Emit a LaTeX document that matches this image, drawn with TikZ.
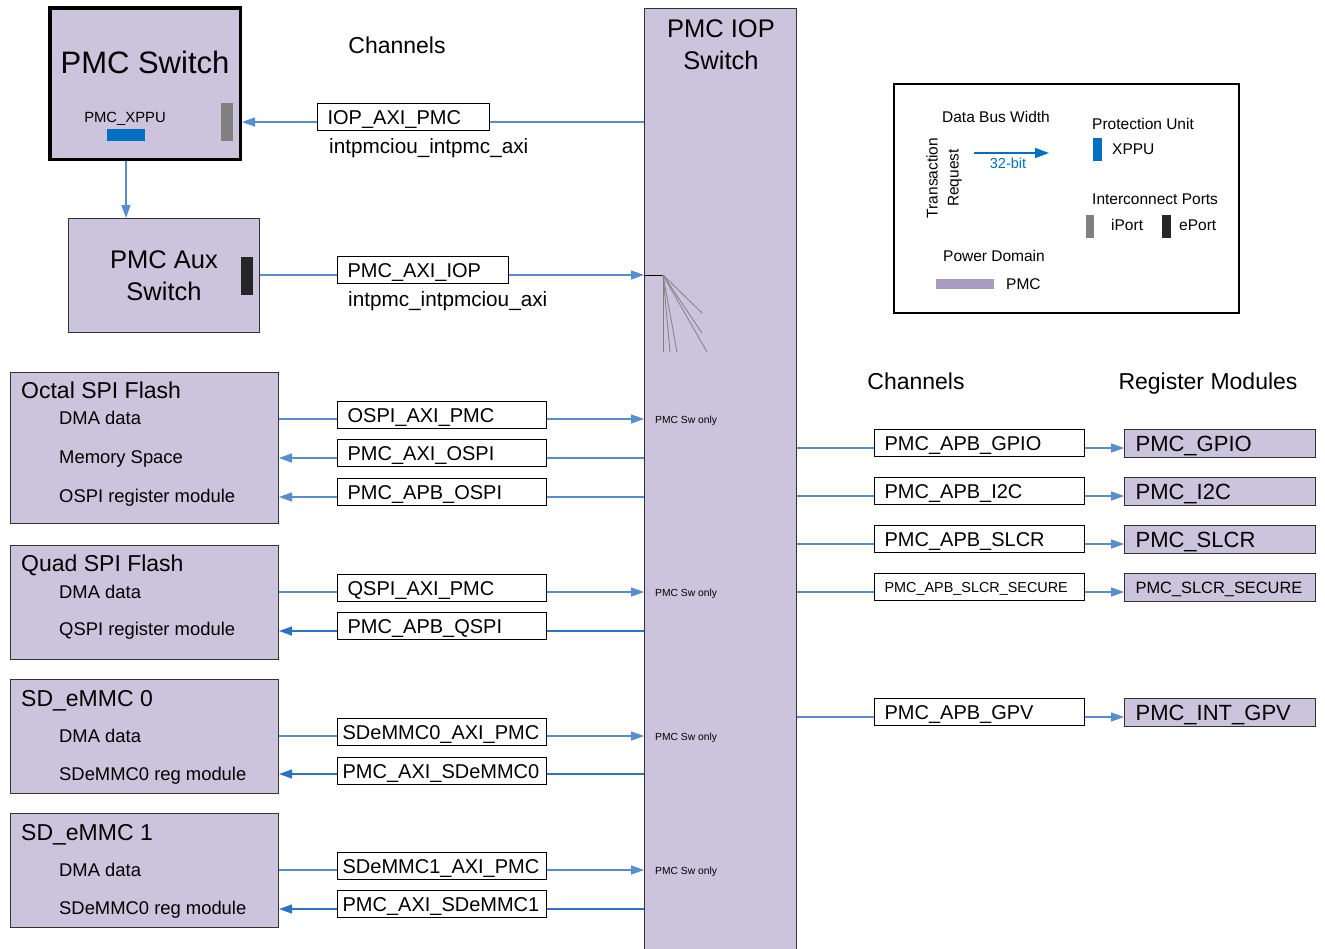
\documentclass[tikz,border=0pt]{standalone}
\usepackage{fontspec}
\setmainfont{Liberation Sans}
\usetikzlibrary{
  arrows.meta,
  positioning,
  calc
}
\definecolor{pmcFill}{HTML}{CCC4DC}
\definecolor{pmcBar}{HTML}{A99BC1}
\definecolor{busBlue}{HTML}{558ED5}
\definecolor{busDark}{HTML}{2A74C6}
\definecolor{xppuBlue}{HTML}{0070C0}
\definecolor{iportGray}{HTML}{808080}
\definecolor{eportBlack}{HTML}{262626}
\definecolor{edgeGray}{HTML}{333333}
\tikzset{
  ftitle/.style={font=\fontsize{31}{36}\selectfont, text height=22.3pt},
  fbig/.style={font=\fontsize{25.5}{32}\selectfont},
  fhead/.style={font=\fontsize{23}{28}\selectfont, text height=16.6pt},
  fchan/.style={font=\fontsize{20}{24}\selectfont, text height=14.4pt},
  fitem/.style={font=\fontsize{18.4}{22}\selectfont, text height=13.2pt},
  fmod/.style={font=\fontsize{22}{26}\selectfont, text height=15.8pt},
  flegend/.style={font=\fontsize{15.5}{21}\selectfont, text height=11.2pt},
  fsmall/.style={font=\fontsize{14.8}{17}\selectfont, text height=10.6pt},
  ftiny/.style={font=\fontsize{10.3}{12}\selectfont, text height=7.4pt},
  fport/.style={font=\fontsize{20.7}{24}\selectfont, text height=14.9pt},
  txt/.style={inner sep=0pt, text depth=0pt},
  ltxt/.style={txt, anchor=west},
  pmcbox/.style={
    draw=edgeGray, line width=1.4pt, fill=pmcFill, anchor=north west, inner sep=0pt
  },
  chan/.style={
    draw=black, line width=1.2pt, fill=white, anchor=north west, align=left,
    minimum height=26.5pt, inner xsep=10pt, inner ysep=0pt,
    text depth=0pt, fchan
  },
  regmod/.style={
    draw=edgeGray, line width=1.2pt, fill=pmcFill, anchor=north west, align=left,
    minimum height=28pt, inner xsep=11pt, inner ysep=0pt, text width=168.8pt,
    text depth=0pt, fmod
  },
  portbar/.style={inner sep=0pt, minimum width=12pt, minimum height=38pt},
  bus/.style={busBlue, line width=1.3pt},
  busarrow/.style={bus, -{Triangle[length=13pt,width=9pt]}},
  busback/.style={busDark, line width=1.3pt, -{Triangle[length=13pt,width=9pt]}},
  fanline/.style={iportGray, line width=0.8pt}
}
\begin{document}
\begin{tikzpicture}[x=1pt, y=-1pt]
  \useasboundingbox (0,0) rectangle (1325,948);

  % switches
  \node[pmcbox, draw=black, line width=3.5pt, minimum width=190.5pt, minimum height=151.5pt] (pmcsw) at (48,6) {};
  \node[ftitle, txt] (pmcswname) at (145,62) {PMC Switch};
  \node[fsmall, txt] (xppuname) at (125,117) {PMC\_XPPU};
  \node[fill=xppuBlue, inner sep=0pt, minimum width=38pt, minimum height=12pt] (xppu) at (126,134.5) {};
  \node[portbar, fill=iportGray] (iportsw) at (227,121.5) {};

  \node[pmcbox, minimum width=191pt, minimum height=113.6pt] (aux) at (68,218) {};
  \node[fbig, align=center] (auxname) at (164,276) {PMC Aux\\Switch};
  \node[portbar, fill=eportBlack] (eportaux) at (247,275.5) {};

  \node[pmcbox, minimum width=152pt, minimum height=950pt] (iop) at (644,8) {};
  \node[fbig, align=center] (iopname) at (721,45) {PMC IOP\\Switch};

  % flash and sd blocks
  \node[pmcbox, minimum width=267.6pt, minimum height=150.6pt] (ospi) at (10,372) {};
  \node[fhead, ltxt] (ospiname) at (21,390) {Octal SPI Flash};
  \node[fitem, ltxt] at (59,418) {DMA data};
  \node[fitem, ltxt] at (59,457) {Memory Space};
  \node[fitem, ltxt] at (59,496) {OSPI register module};

  \node[pmcbox, minimum width=267.6pt, minimum height=113.6pt] (qspi) at (10,545) {};
  \node[fhead, ltxt] (qspiname) at (21,563) {Quad SPI Flash};
  \node[fitem, ltxt] at (59,592) {DMA data};
  \node[fitem, ltxt] at (59,629) {QSPI register module};

  \node[pmcbox, minimum width=267.6pt, minimum height=113.6pt] (sd0) at (10,679) {};
  \node[fhead, ltxt] (sd0name) at (21,698) {SD\_eMMC 0};
  \node[fitem, ltxt] at (59,736) {DMA data};
  \node[fitem, ltxt] at (59,774) {SDeMMC0 reg module};

  \node[pmcbox, minimum width=267.6pt, minimum height=113.6pt] (sd1) at (10,813) {};
  \node[fhead, ltxt] (sd1name) at (21,832) {SD\_eMMC 1};
  \node[fitem, ltxt] at (59,870) {DMA data};
  \node[fitem, ltxt] at (59,908) {SDeMMC0 reg module};

  % register modules
  \node[regmod] (gpio) at (1124,429) {PMC\_GPIO};
  \node[regmod] (i2c) at (1124,477) {PMC\_I2C};
  \node[regmod] (slcr) at (1124,525) {PMC\_SLCR};
  \node[regmod, font=\fontsize{16.4}{20}\selectfont, text height=11.8pt] (slcrsec) at (1124,573) {PMC\_SLCR\_SECURE};
  \node[regmod] (gpv) at (1124,698) {PMC\_INT\_GPV};

  % channel rows
  \coordinate (rtop) at (0,122);
  \coordinate (raux) at (0,275);
  \coordinate (ro1) at (0,419);
  \coordinate (ro2) at (0,458);
  \coordinate (ro3) at (0,497);
  \coordinate (rq1) at (0,592);
  \coordinate (rq2) at (0,631);
  \coordinate (rs1) at (0,736);
  \coordinate (rs2) at (0,774);
  \coordinate (rt1) at (0,870);
  \coordinate (rt2) at (0,909);
  \coordinate (rgpio) at (0,448);
  \coordinate (ri2c) at (0,496);
  \coordinate (rslcr) at (0,544);
  \coordinate (rsec) at (0,592);
  \coordinate (rgpv) at (0,717);

  \draw[busarrow] (xppu |- pmcsw.south) -- (xppu |- aux.north);
  \draw[busarrow] (iop.west |- rtop) -- (pmcsw.east |- rtop);
  \draw[busarrow] (aux.east |- raux) -- (iop.west |- raux);

  \draw[busarrow] (ospi.east |- ro1) -- (iop.west |- ro1);
  \draw[busarrow] (iop.west |- ro2) -- (ospi.east |- ro2);
  \draw[busarrow] (iop.west |- ro3) -- (ospi.east |- ro3);
  \draw[busarrow] (qspi.east |- rq1) -- (iop.west |- rq1);
  \draw[busback] (iop.west |- rq2) -- (qspi.east |- rq2);
  \draw[busarrow] (sd0.east |- rs1) -- (iop.west |- rs1);
  \draw[busback] (iop.west |- rs2) -- (sd0.east |- rs2);
  \draw[busarrow] (sd1.east |- rt1) -- (iop.west |- rt1);
  \draw[busback] (iop.west |- rt2) -- (sd1.east |- rt2);

  \draw[busarrow] (iop.east |- rgpio) -- (gpio.west |- rgpio);
  \draw[busarrow] (iop.east |- ri2c) -- (i2c.west |- ri2c);
  \draw[busarrow] (iop.east |- rslcr) -- (slcr.west |- rslcr);
  \draw[busarrow] (iop.east |- rsec) -- (slcrsec.west |- rsec);
  \draw[busarrow] (iop.east |- rgpv) -- (gpv.west |- rgpv);

  % fan inside iop switch
  \coordinate (fan) at (663,275);
  \draw[black, line width=1pt] (iop.west |- fan) -- (fan);
  \draw[fanline] (fan) -- (663,352);
  \draw[fanline] (fan) -- (670,352);
  \draw[fanline] (fan) -- (677,352);
  \draw[fanline] (fan) -- (707,352);
  \draw[fanline] (fan) -- (702,333);
  \draw[fanline] (fan) -- (702,313);

  % channels
  \node[fhead, txt] (chanleft) at (397,45) {Channels};
  \node[chan, text width=151.6pt] (iopaxipmc) at (317,103) {IOP\_AXI\_PMC};
  \node[fport, ltxt] at (329,146) {intpmciou\_intpmc\_axi};
  \node[chan, text width=150.6pt] (pmcaxiiop) at (337,256) {PMC\_AXI\_IOP};
  \node[fport, ltxt] at (348,299) {intpmc\_intpmciou\_axi};

  \node[chan, text width=188.6pt] (ospiaxi) at (337,401) {OSPI\_AXI\_PMC};
  \node[chan, text width=188.6pt] (axiospi) at (337,439) {PMC\_AXI\_OSPI};
  \node[chan, text width=188.6pt] (apbospi) at (337,478) {PMC\_APB\_OSPI};
  \node[chan, text width=188.6pt] (qspiaxi) at (337,574) {QSPI\_AXI\_PMC};
  \node[chan, text width=188.6pt] (apbqspi) at (337,612) {PMC\_APB\_QSPI};
  \node[chan, text width=198.6pt, inner xsep=5pt] (sd0axi) at (337,718) {SDeMMC0\_AXI\_PMC};
  \node[chan, text width=198.6pt, inner xsep=5pt] (axisd0) at (337,757) {PMC\_AXI\_SDeMMC0};
  \node[chan, text width=198.6pt, inner xsep=5pt] (sd1axi) at (337,852) {SDeMMC1\_AXI\_PMC};
  \node[chan, text width=198.6pt, inner xsep=5pt] (axisd1) at (337,890) {PMC\_AXI\_SDeMMC1};

  \node[ftiny, ltxt] at (655,420) {PMC Sw only};
  \node[ftiny, ltxt] at (655,593) {PMC Sw only};
  \node[ftiny, ltxt] at (655,737) {PMC Sw only};
  \node[ftiny, ltxt] at (655,871) {PMC Sw only};

  \node[fhead, txt] (chanright) at (916,381) {Channels};
  \node[fhead, txt] (regheader) at (1208,381) {Register Modules};
  \node[chan, text width=189.6pt] (apbgpio) at (874,429) {PMC\_APB\_GPIO};
  \node[chan, text width=189.6pt] (apbi2c) at (874,477) {PMC\_APB\_I2C};
  \node[chan, text width=189.6pt] (apbslcr) at (874,525) {PMC\_APB\_SLCR};
  \node[chan, text width=189.6pt, font=\fontsize{14.4}{18}\selectfont, text height=10.4pt] (apbsec) at (874,573) {PMC\_APB\_SLCR\_SECURE};
  \node[chan, text width=189.6pt] (apbgpv) at (874,698) {PMC\_APB\_GPV};

  % legend
  \node[draw=black, line width=2pt, anchor=north west, inner sep=0pt, minimum width=345pt, minimum height=229pt] (legend) at (893,83) {};
  \node[flegend, txt] at (996,117) {Data Bus Width};
  \node[font=\fontsize{15.5}{21}\selectfont, rotate=90, align=center] at (944,178) {Transaction\\Request};
  \coordinate (bwstart) at (974,153);
  \coordinate (bwend) at (1049,153);
  \draw[xppuBlue, line width=1.3pt, -{Triangle[length=14pt,width=10pt]}] (bwstart) -- (bwend);
  \node[txt, font=\fontsize{14.5}{17}\selectfont, text height=10.4pt, text=xppuBlue] at (1008,163) {32-bit};
  \node[flegend, ltxt] at (1092,124) {Protection Unit};
  \node[fill=xppuBlue, inner sep=0pt, minimum width=9pt, minimum height=23pt] (keyxppu) at (1097.5,149.5) {};
  \node[flegend, ltxt] at (1112,149) {XPPU};
  \node[flegend, ltxt] at (1092,199) {Interconnect Ports};
  \node[fill=iportGray, inner sep=0pt, minimum width=8pt, minimum height=23pt] (keyiport) at (1090,226.5) {};
  \node[flegend, ltxt] at (1111,225) {iPort};
  \node[fill=eportBlack, inner sep=0pt, minimum width=9pt, minimum height=23pt] (keyeport) at (1166.5,226.5) {};
  \node[flegend, ltxt] at (1179,225) {ePort};
  \node[flegend, txt] at (994,256) {Power Domain};
  \node[fill=pmcBar, inner sep=0pt, minimum width=58pt, minimum height=10pt] (keypmc) at (965,284) {};
  \node[flegend, ltxt] at (1006,284) {PMC};
\end{tikzpicture}
\end{document}
